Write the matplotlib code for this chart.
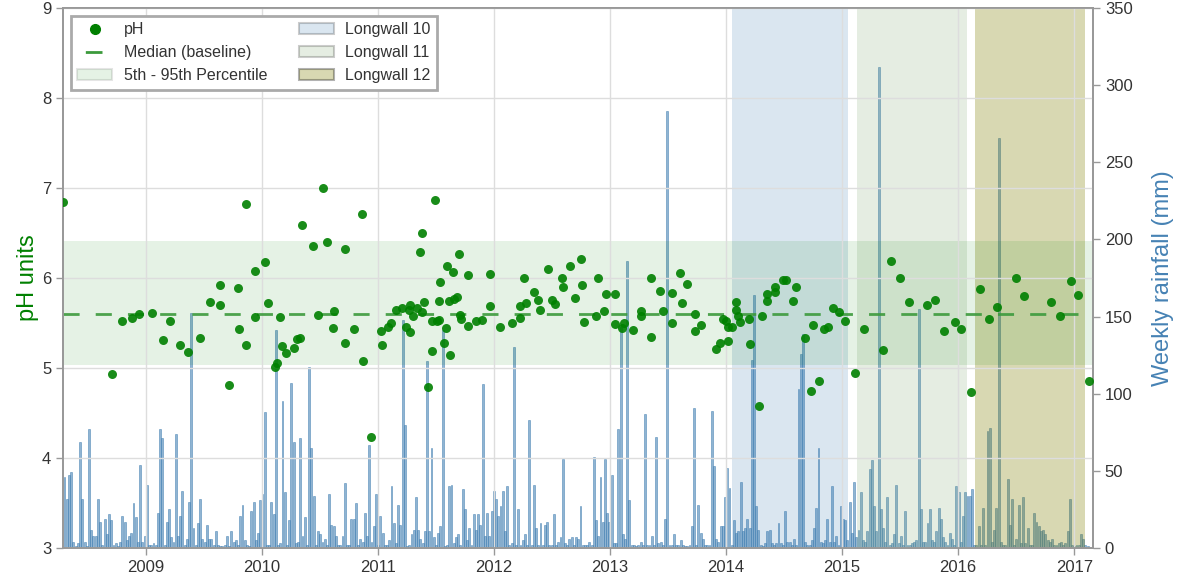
import datetime as dt
import matplotlib
matplotlib.use("Agg")
import matplotlib.pyplot as plt
import matplotlib.dates as mdates
from matplotlib.lines import Line2D
from matplotlib.patches import Patch
import numpy as np
import pandas as pd

plt.rcParams['font.family'] = ['Liberation Sans', 'DejaVu Sans']

# pH samples: decimal year, pH value
ph_year = [2008.29, 2008.71, 2008.80, 2008.88, 2008.94, 2009.05, 2009.15, 2009.21, 2009.29, 2009.36,
           2009.47, 2009.55, 2009.64, 2009.64, 2009.72, 2009.79, 2009.80, 2009.86, 2009.86, 2009.94,
           2009.94, 2010.03, 2010.05, 2010.11, 2010.13, 2010.16, 2010.17, 2010.21, 2010.28, 2010.30,
           2010.33, 2010.35, 2010.44, 2010.48, 2010.53, 2010.56, 2010.61, 2010.62, 2010.72, 2010.72,
           2010.79, 2010.86, 2010.87, 2010.94, 2011.03, 2011.04, 2011.09, 2011.11, 2011.16, 2011.21,
           2011.24, 2011.27, 2011.28, 2011.28, 2011.30, 2011.34, 2011.36, 2011.38, 2011.38, 2011.40,
           2011.43, 2011.47, 2011.47, 2011.49, 2011.51, 2011.53, 2011.53, 2011.54, 2011.57, 2011.59,
           2011.60, 2011.61, 2011.62, 2011.65, 2011.66, 2011.68, 2011.70, 2011.71, 2011.72, 2011.78,
           2011.78, 2011.85, 2011.90, 2011.97, 2011.97, 2012.05, 2012.16, 2012.23, 2012.23, 2012.26,
           2012.28, 2012.35, 2012.38, 2012.40, 2012.47, 2012.50, 2012.53, 2012.59, 2012.60, 2012.66,
           2012.70, 2012.75, 2012.76, 2012.78, 2012.88, 2012.90, 2012.95, 2012.97, 2013.04, 2013.04,
           2013.10, 2013.12, 2013.20, 2013.27, 2013.27, 2013.35, 2013.35, 2013.43, 2013.46, 2013.53,
           2013.53, 2013.60, 2013.62, 2013.66, 2013.73, 2013.73, 2013.78, 2013.91, 2013.95, 2013.97,
           2014.00, 2014.02, 2014.02, 2014.05, 2014.09, 2014.09, 2014.10, 2014.12, 2014.20, 2014.21,
           2014.28, 2014.31, 2014.35, 2014.35, 2014.42, 2014.42, 2014.49, 2014.52, 2014.58, 2014.60,
           2014.68, 2014.73, 2014.75, 2014.80, 2014.84, 2014.88, 2014.92, 2014.97, 2015.03, 2015.11,
           2015.19, 2015.35, 2015.42, 2015.50, 2015.58, 2015.73, 2015.80, 2015.88, 2015.97, 2016.03,
           2016.11, 2016.19, 2016.27, 2016.34, 2016.50, 2016.57, 2016.80, 2016.88, 2016.97, 2017.03,
           2017.13]
ph_value = [6.84, 4.93, 5.52, 5.56, 5.60, 5.61, 5.31, 5.52, 5.26, 5.18,
            5.33, 5.73, 5.92, 5.70, 4.81, 5.89, 5.43, 6.82, 5.26, 6.08,
            5.57, 6.18, 5.72, 5.01, 5.06, 5.57, 5.24, 5.17, 5.22, 5.32,
            5.33, 6.59, 6.36, 5.59, 7.00, 6.40, 5.44, 5.63, 5.28, 6.32,
            5.43, 6.71, 5.08, 4.23, 5.41, 5.26, 5.46, 5.50, 5.64, 5.67,
            5.46, 5.64, 5.70, 5.40, 5.58, 5.67, 6.29, 5.62, 6.50, 5.73,
            4.79, 5.19, 5.52, 6.87, 5.52, 5.53, 5.74, 5.96, 5.28, 5.44,
            6.13, 5.74, 5.14, 6.07, 5.77, 5.79, 6.27, 5.59, 5.54, 6.03,
            5.47, 5.52, 5.53, 5.69, 6.04, 5.46, 5.50, 5.56, 5.69, 6.00,
            5.72, 5.84, 5.76, 5.64, 6.10, 5.76, 5.71, 6.00, 5.90, 6.13,
            5.78, 6.21, 5.92, 5.51, 5.58, 6.00, 5.63, 5.82, 5.82, 5.49,
            5.44, 5.50, 5.42, 5.63, 5.58, 6.00, 5.34, 5.86, 5.63, 5.50,
            5.83, 6.06, 5.72, 5.93, 5.60, 5.41, 5.48, 5.21, 5.28, 5.54,
            5.52, 5.30, 5.46, 5.46, 5.64, 5.73, 5.58, 5.51, 5.54, 5.27,
            4.58, 5.58, 5.82, 5.74, 5.90, 5.84, 5.98, 5.98, 5.75, 5.90,
            5.33, 4.75, 5.48, 4.86, 5.43, 5.46, 5.67, 5.62, 5.52, 4.94,
            5.43, 5.20, 6.19, 6.00, 5.73, 5.70, 5.76, 5.41, 5.51, 5.43,
            4.73, 5.88, 5.54, 5.68, 6.00, 5.80, 5.73, 5.58, 5.97, 5.81,
            4.86]

ph_median = 5.6
ph_p05 = 5.03
ph_p95 = 6.41

# weekly rainfall (mm), weeks ending on Sundays from 2008-04-20
rain_start = "2008-04-20"
rain_mm = [46, 32, 47, 49, 4, 1, 3, 69, 32, 4, 1, 77, 12, 8, 8, 32, 17, 2, 19, 9,
           22, 18, 2, 3, 1, 4, 21, 17, 5, 8, 10, 29, 20, 4, 54, 4, 8, 41, 2, 2,
           3, 2, 23, 77, 71, 2, 17, 25, 7, 4, 74, 8, 21, 37, 2, 6, 30, 152, 13, 2,
           16, 32, 6, 4, 15, 6, 6, 2, 11, 2, 1, 1, 2, 8, 1, 11, 4, 5, 2, 21,
           28, 5, 2, 1, 24, 30, 5, 10, 31, 35, 88, 2, 2, 30, 22, 141, 2, 3, 95, 36,
           2, 18, 107, 69, 3, 4, 71, 8, 20, 2, 117, 65, 34, 2, 11, 9, 4, 6, 2, 35,
           15, 14, 8, 2, 2, 8, 42, 2, 2, 19, 19, 29, 2, 6, 4, 23, 8, 67, 4, 14,
           35, 2, 21, 10, 2, 2, 5, 40, 16, 3, 28, 15, 148, 80, 1, 2, 9, 12, 33, 12,
           6, 3, 11, 121, 11, 65, 7, 2, 10, 14, 141, 1, 2, 40, 41, 3, 7, 9, 2, 38,
           25, 5, 13, 2, 22, 12, 22, 15, 106, 8, 23, 8, 24, 37, 32, 21, 27, 37, 11, 40,
           2, 3, 130, 2, 25, 2, 5, 9, 2, 83, 2, 41, 13, 2, 16, 2, 15, 17, 2, 2,
           22, 2, 4, 7, 58, 3, 2, 6, 7, 2, 7, 6, 27, 2, 2, 2, 4, 2, 59, 18,
           8, 46, 17, 58, 23, 17, 47, 3, 3, 77, 143, 9, 6, 186, 31, 2, 2, 1, 2, 4,
           2, 87, 2, 2, 8, 2, 72, 3, 4, 2, 19, 283, 2, 2, 9, 2, 2, 5, 2, 1,
           1, 2, 14, 91, 2, 28, 10, 6, 2, 2, 2, 89, 53, 6, 4, 14, 14, 33, 52, 39,
           2, 18, 10, 11, 43, 11, 13, 19, 13, 122, 164, 27, 12, 2, 1, 3, 11, 12, 3, 2,
           3, 16, 3, 2, 24, 4, 4, 2, 6, 2, 103, 126, 139, 4, 2, 2, 5, 13, 26, 65,
           4, 3, 5, 19, 4, 40, 4, 8, 2, 27, 19, 18, 5, 30, 10, 43, 7, 12, 36, 5,
           4, 11, 51, 57, 27, 11, 312, 25, 13, 4, 33, 2, 3, 9, 41, 3, 8, 2, 24, 2,
           2, 3, 4, 5, 155, 25, 4, 4, 16, 25, 5, 4, 11, 26, 19, 7, 4, 2, 10, 6,
           2, 40, 36, 4, 21, 36, 34, 34, 38, 2, 2, 14, 2, 26, 2, 76, 78, 4, 12, 26,
           266, 4, 2, 2, 45, 15, 32, 2, 6, 28, 3, 33, 3, 13, 2, 2, 23, 17, 14, 11,
           12, 9, 5, 4, 6, 2, 2, 3, 4, 2, 3, 11, 32, 2, 1, 2, 2, 9, 6, 2,
           1]

longwall_names = ["Longwall 10", "Longwall 11", "Longwall 12"]
longwall_start = ["2014-01-19", "2015-02-17", "2016-02-23"]
longwall_end = ["2015-01-19", "2016-01-28", "2017-02-04"]
longwall_colors = ["steelblue", "#7da56e", "olive"]
longwall_alpha = [0.2, 0.2, 0.3]


def decyear(y):
    year = int(y)
    return dt.datetime(year, 1, 1) + dt.timedelta(days=(y - year) * 365.25)


ph_dates = [decyear(y) for y in ph_year]
rain_dates = pd.date_range(rain_start, periods=len(rain_mm), freq="W")

fig = plt.figure(figsize=(11.81, 5.88), dpi=100)
ax1 = fig.add_axes([0.0533, 0.068, 0.8722, 0.9184])
ax2 = ax1.twinx()

# rainfall bars behind the pH axis
ax2.bar(rain_dates, rain_mm, width=6, color="steelblue", alpha=0.6,
        edgecolor="steelblue", linewidth=0.6, zorder=1)
ax2.set_ylim(0, 350)
ax2.set_yticks(np.arange(0, 351, 50))
ax1.set_zorder(ax2.get_zorder() + 1)
ax1.patch.set_visible(False)

for s, e, c, a in zip(longwall_start, longwall_end, longwall_colors, longwall_alpha):
    ax1.axvspan(pd.Timestamp(s), pd.Timestamp(e), color=c, alpha=a, lw=0, zorder=0)

ax1.axhspan(ph_p05, ph_p95, color="green", alpha=0.1, lw=0, zorder=0)
ax1.axhline(ph_median, color="#3c9a3c", ls=(0, (5.8, 5.8)), lw=2, alpha=0.9, zorder=2)
ax1.scatter(ph_dates, ph_value, s=42, color="green", alpha=0.9, linewidths=0, zorder=3)

ax1.set_ylim(3, 9)
ax1.set_xlim(dt.datetime(2008, 4, 15), dt.datetime(2017, 3, 1))
ax1.xaxis.set_major_locator(mdates.YearLocator())
ax1.xaxis.set_major_formatter(mdates.DateFormatter("%Y"))
ax1.grid(True, color="#dddddd", lw=1, zorder=0)
ax1.set_axisbelow(True)

ax1.set_ylabel("pH units", color="green", fontsize=17, labelpad=2)
ax2.set_ylabel("Weekly rainfall (mm)", color="steelblue", fontsize=17, labelpad=14)

for ax in (ax1, ax2):
    ax.tick_params(labelsize=12, labelcolor="#333333", color="#999999", length=5, width=1)
    for sp in ax.spines.values():
        sp.set_color("#999999")
        sp.set_linewidth(1.3)

handles = [
    Line2D([], [], ls="none", marker="o", color="green", markersize=7),
    Line2D([], [], color="#3c9a3c", lw=2, ls=(0, (0, 3, 6, 20))),
    Patch(facecolor="green", edgecolor="k", alpha=0.1, lw=1.5),
]
labels = ["pH", "Median (baseline)", "5th - 95th Percentile"]
for n, c, a in zip(longwall_names, longwall_colors, longwall_alpha):
    handles.append(Patch(facecolor=c, edgecolor="k", alpha=a, lw=1.5))
    labels.append(n)

leg = ax1.legend(handles, labels, loc="upper left", ncol=2, fontsize=11.5,
                 frameon=True, fancybox=False, framealpha=1, borderpad=0.4,
                 borderaxespad=0.5, columnspacing=2.0, handlelength=2.2,
                 handletextpad=0.7, labelspacing=0.5)
leg.get_frame().set_edgecolor("#aaaaaa")
leg.get_frame().set_linewidth(2)
for t in leg.get_texts():
    t.set_color("#333333")

fig.savefig("out.png", dpi=100)
